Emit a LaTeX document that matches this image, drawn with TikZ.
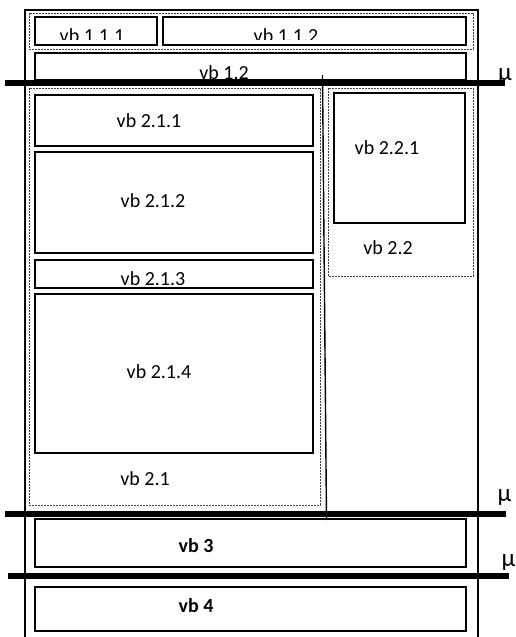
\documentclass[tikz,border=0pt]{standalone}
\usepackage{fontspec}
\setmainfont{Carlito}
\begin{document}
\begin{tikzpicture}[x=1pt, y=-1pt, font=\fontsize{20}{24}\selectfont]
        % ================= styles =================
        \tikzset{
            % solid content box
            vbox/.style={draw=black, line width=1.8pt},
            % dashed group frame
            vgroup/.style={draw=black!75, line width=0.8pt, dash pattern=on 2pt off 1pt},
            % thick horizontal cut
            cutline/.style={line width=6pt, black},
            % labels sit on their baseline
            lbl/.style={inner sep=0pt, anchor=base},
            % cut marker
            mulbl/.style={lbl, font=\fontsize{25}{30}\selectfont}
        }

        \useasboundingbox (0,0) rectangle (515,637);
        \clip (0,0) rectangle (515,637);

        % outer frame (runs off the bottom)
        \draw[line width=1.8pt] (25,650) -- (25,10) -- (478,10) -- (478,650);

        % ================= row 1 =================
        \draw[vgroup] (29,13) rectangle (473,49);
        \draw[vbox] (35,17) rectangle (157,45);
        \draw[vbox] (163,17) rectangle (466,45);
        \begin{scope}
            \clip (35,17) rectangle (466,39);
            \node[lbl] (l111) at (92,42) {vb 1.1.1};
            \node[lbl] (l112) at (286,42) {vb 1.1.2};
        \end{scope}
        \draw[vbox] (35,53) rectangle (466,80);
        \node[lbl] (l12) at (224,79) {vb 1.2};

        % ================= row 2, left column =================
        \draw[vgroup] (29,88) rectangle (320,505);
        \foreach \top/\bot/\cx/\base/\name in {95/146/149/127/2.1.1, 152/253/153/207/2.1.2,
                                               260/288/153/285/2.1.3, 294/453/159/378/2.1.4} {
            \draw[vbox] (35,\top) rectangle (313,\bot);
            \node[lbl] at (\cx,\base) {vb \name};
        }
        \node[lbl] (l21) at (145,485) {vb 2.1};

        % ================= row 2, right column =================
        \draw[vgroup] (328,88) rectangle (473,276);
        \draw[vbox] (334,93) rectangle (465,223);
        \node[lbl] (l221) at (387,154) {vb 2.2.1};
        \node[lbl] (l22) at (388,254) {vb 2.2};

        % column split
        \coordinate (splitTop) at (322.5,75);
        \coordinate (splitBot) at (326.5,520);
        \draw[line width=1.4pt] (splitTop) -- (splitBot);

        % ================= rows 3 and 4 =================
        \draw[vbox] (35,519) rectangle (466,567);
        \node[lbl, font=\fontsize{20}{24}\selectfont\bfseries] (l3) at (196,552) {vb 3};
        \draw[vbox] (35,587) rectangle (466,631);
        \node[lbl, font=\fontsize{20}{24}\selectfont\bfseries] (l4) at (196,612) {vb 4};

        % ================= cuts =================
        \draw[cutline] (5,83) -- (505,83);
        \draw[cutline] (5,513.5) -- (506,513.5);
        \draw[cutline] (8,576) -- (509,576);
        \begin{scope}
            \clip (490,60) rectangle (515,80);
            \node[mulbl] (mu1) at (505,80) {μ};
        \end{scope}
        \node[mulbl] (mu2) at (504.5,501) {μ};
        \node[mulbl] (mu3) at (508.5,566) {μ};

    \end{tikzpicture}
\end{document}
